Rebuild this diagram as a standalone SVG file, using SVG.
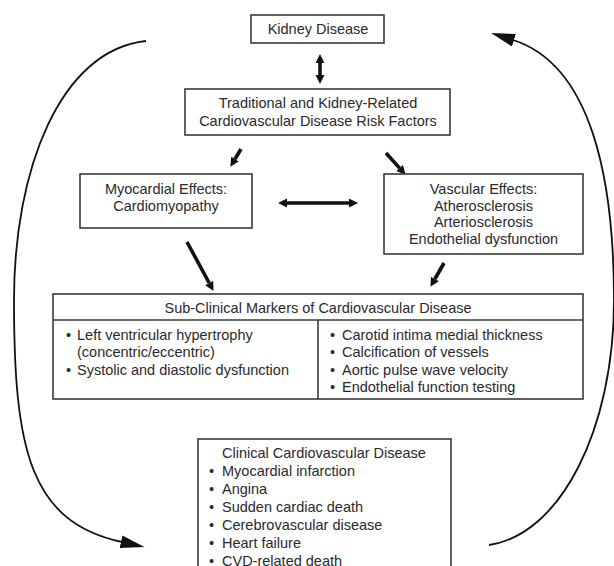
<svg xmlns="http://www.w3.org/2000/svg" width="614" height="566" viewBox="0 0 614 566">
<defs>
<style>
.box{fill:#fff;stroke:#3a3a3a;stroke-width:1.6}
.t{font-family:"Liberation Sans",Arial,sans-serif;font-size:14.5px;fill:#2a2a2a}
.c{text-anchor:middle}
.thick{stroke:#111;stroke-width:3.6;fill:none;stroke-linecap:butt}
.curve{stroke:#111;stroke-width:1.8;fill:none}
</style>
<marker id="ah" markerUnits="userSpaceOnUse" markerWidth="10" markerHeight="10" refX="0" refY="4.5" orient="auto-start-reverse">
<path d="M0,0 L9,4.5 L0,9 z" fill="#111"/>
</marker>
<marker id="bh" markerUnits="userSpaceOnUse" markerWidth="26" markerHeight="14" refX="1" refY="6.5" orient="auto">
<path d="M0,0 L24,6.5 L0,13 z" fill="#111"/>
</marker>
<clipPath id="subclip"><rect x="53" y="294" width="530" height="101.5"/></clipPath>
</defs>
<rect width="614" height="566" fill="#fff"/>

<g id="connectors">
<line class="thick" x1="320" y1="63" x2="320" y2="75" marker-start="url(#ah)" marker-end="url(#ah)"/>
<line class="thick" x1="241" y1="149" x2="235" y2="159" marker-end="url(#ah)"/>
<line class="thick" x1="386" y1="153" x2="399.6" y2="168.1" marker-end="url(#ah)"/>
<line class="thick" x1="287" y1="203" x2="349" y2="203" marker-start="url(#ah)" marker-end="url(#ah)"/>
<line class="thick" x1="187" y1="242" x2="209.2" y2="283" marker-end="url(#ah)"/>
<line class="thick" x1="444" y1="263" x2="434.9" y2="279" marker-end="url(#ah)"/>
<path class="curve" d="M146,41 C60,50 14,170 14,300 C14,450 30,522 122,542" marker-end="url(#bh)"/>
<path class="curve" d="M489,545 C560,535 614,430 614,300 C614,180 592,65 513,40" marker-end="url(#bh)"/>
</g>

<g id="kidney">
<rect class="box" x="251" y="15" width="133" height="28"/>
<text class="t c" x="318" y="34">Kidney Disease</text>
</g>

<g id="risk">
<rect class="box" x="185" y="89" width="265" height="46"/>
<text class="t c" x="318" y="108">Traditional and Kidney-Related</text>
<text class="t c" x="318" y="125.5">Cardiovascular Disease Risk Factors</text>
</g>

<g id="myocardial">
<rect class="box" x="80" y="174" width="172" height="54"/>
<text class="t c" x="166" y="194">Myocardial Effects:</text>
<text class="t c" x="166" y="211">Cardiomyopathy</text>
</g>

<g id="vascular">
<rect class="box" x="384" y="174" width="199" height="80"/>
<text class="t c" x="483.5" y="193.5">Vascular Effects:</text>
<text class="t c" x="483.5" y="210.5">Atherosclerosis</text>
<text class="t c" x="483.5" y="227">Arteriosclerosis</text>
<text class="t c" x="483.5" y="243.5">Endothelial dysfunction</text>
</g>

<g id="subclinical">
<rect class="box" x="53" y="294" width="530" height="105"/>
<line class="box" x1="53" y1="320" x2="583" y2="320"/>
<line class="box" x1="318" y1="320" x2="318" y2="399"/>
<text class="t c" x="318" y="312.5">Sub-Clinical Markers of Cardiovascular Disease</text>
<text class="t" x="66" y="339.5">•</text>
<text class="t" x="77" y="339.5">Left ventricular hypertrophy</text>
<text class="t" x="77" y="357">(concentric/eccentric)</text>
<text class="t" x="66" y="374.5">•</text>
<text class="t" x="77" y="374.5">Systolic and diastolic dysfunction</text>
<g clip-path="url(#subclip)">
<text class="t" x="330" y="339.5">•</text>
<text class="t" x="342" y="339.5">Carotid intima medial thickness</text>
<text class="t" x="330" y="357">•</text>
<text class="t" x="342" y="357">Calcification of vessels</text>
<text class="t" x="330" y="374.5">•</text>
<text class="t" x="342" y="374.5">Aortic pulse wave velocity</text>
<text class="t" x="330" y="392">•</text>
<text class="t" x="342" y="392">Endothelial function testing</text>
</g>
</g>

<g id="clinical">
<rect class="box" x="198" y="439" width="253" height="140"/>
<text class="t c" x="324" y="458">Clinical Cardiovascular Disease</text>
<text class="t" x="209" y="476">•</text>
<text class="t" x="222" y="476">Myocardial infarction</text>
<text class="t" x="209" y="494">•</text>
<text class="t" x="222" y="494">Angina</text>
<text class="t" x="209" y="512">•</text>
<text class="t" x="222" y="512">Sudden cardiac death</text>
<text class="t" x="209" y="530">•</text>
<text class="t" x="222" y="530">Cerebrovascular disease</text>
<text class="t" x="209" y="548">•</text>
<text class="t" x="222" y="548">Heart failure</text>
<text class="t" x="209" y="565.5">•</text>
<text class="t" x="222" y="565.5">CVD-related death</text>
</g>
</svg>
